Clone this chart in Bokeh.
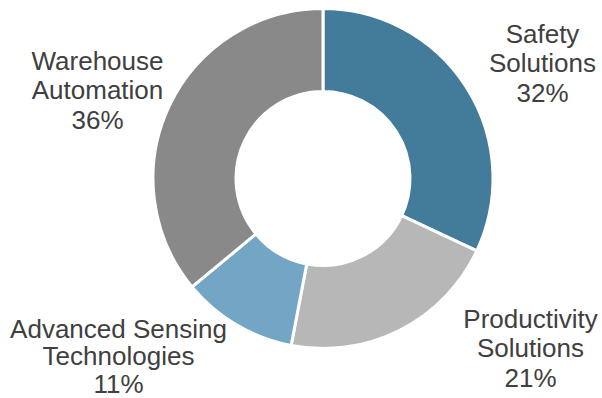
import math
from bokeh.plotting import figure
from bokeh.models import Range1d, ColumnDataSource
from bokeh.core.properties import value
from bokeh.embed import file_html
from bokeh.resources import INLINE

# ---- data ----
categories = ["Safety Solutions", "Productivity Solutions",
              "Advanced Sensing Technologies", "Warehouse Automation"]
label_line1 = ["Safety", "Productivity", "Advanced Sensing", "Warehouse"]
label_line2 = ["Solutions", "Solutions", "Technologies", "Automation"]
shares = [32, 21, 11, 36]
colors = ["#437B9A", "#B7B7B7", "#73A6C4", "#898989"]

# ---- layout ----
W, H = 602, 398
cx, cy = 322.5, H - 178
r_in, r_out = 87, 170
label_pos = [(542, 33), (530, 318), (118, 328), (97, 60)]  # centre of first line (image coords)
line_gaps = [29.5, 29.5, 27.5, 29.5]

total = float(sum(shares))
starts, ends = [], []
acc = 0.0
for v in shares:
    starts.append(math.pi / 2 - acc / total * 2 * math.pi)
    acc += v
    ends.append(math.pi / 2 - acc / total * 2 * math.pi)

p = figure(width=W, height=H, output_backend="svg", toolbar_location=None,
           x_range=Range1d(0, W), y_range=Range1d(0, H),
           min_border=0, outline_line_color=None)
p.axis.visible = False
p.grid.visible = False
p.background_fill_color = "white"
p.border_fill_color = "white"

src = ColumnDataSource(dict(start=starts, end=ends, color=colors, cat=categories))
p.annular_wedge(x=cx, y=cy, inner_radius=r_in, outer_radius=r_out,
                start_angle="start", end_angle="end", direction="clock",
                fill_color="color", line_color="white", line_width=3, source=src)

xs, ys, txt = [], [], []
for i, v in enumerate(shares):
    lx, ly = label_pos[i]
    lines = [label_line1[i], label_line2[i], f"{v}%"]
    for j, t in enumerate(lines):
        xs.append(lx)
        ys.append(H - (ly + j * line_gaps[i]))
        txt.append(t)

p.text(x=xs, y=ys, text=txt, text_align="center", text_baseline="middle",
       text_font=value("Liberation Sans"), text_font_size="26px",
       text_color="#404040")

open("out.html", "w").write(file_html(p, INLINE))
